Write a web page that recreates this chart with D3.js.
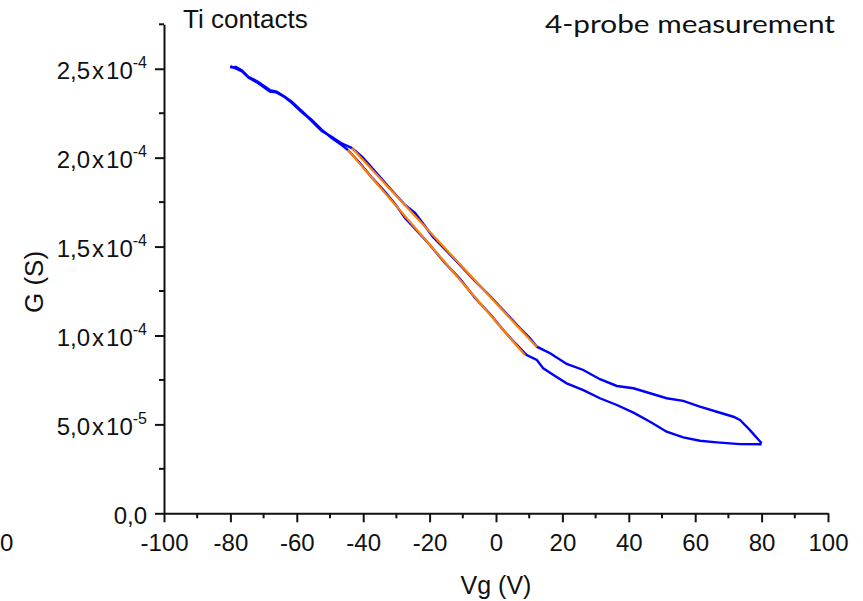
<!DOCTYPE html>
<html lang="en">
<head>
  <meta charset="utf-8">
  <title>G vs Vg, Ti contacts</title>
  <script src="https://d3js.org/d3.v7.min.js"></script>
  <style>
    body { margin: 0; background: #fff; }
    text { font-family: "Liberation Sans", Arial, sans-serif; fill: #111; }
  </style>
</head>
<body>
  <svg width="863" height="601"></svg>
  <script>
    // ---- data ----
    var xTicks = [-100, -80, -60, -40, -20, 0, 20, 40, 60, 80, 100];
    var yTickValues = [0, 5e-5, 1e-4, 1.5e-4, 2e-4, 2.5e-4];
    var yTickMant = ["0,0", "5,0", "1,0", "1,5", "2,0", "2,5"];
    var yTickExp = [null, "-5", "-4", "-4", "-4", "-4"];

    // forward sweep, -80 V -> 80 V  [Vg, G]
    var sweepUp = [
      [-80.1, 2.508e-4], [-78.3, 2.510e-4], [-76.5, 2.490e-4], [-74.6, 2.455e-4],
      [-71.7, 2.427e-4], [-68.1, 2.380e-4], [-66.1, 2.371e-4], [-63.6, 2.343e-4],
      [-61.5, 2.315e-4], [-59.6, 2.282e-4], [-57.5, 2.245e-4], [-55.5, 2.212e-4],
      [-52.5, 2.158e-4], [-49.5, 2.111e-4], [-46.5, 2.071e-4], [-44.6, 2.043e-4],
      [-41.0, 1.970e-4], [-37.3, 1.886e-4], [-33.7, 1.813e-4], [-30.4, 1.740e-4],
      [-27.4, 1.661e-4], [-23.5, 1.582e-4], [-19.9, 1.509e-4], [-15.4, 1.408e-4],
      [-10.8, 1.318e-4], [-6.3, 1.211e-4], [-1.8, 1.121e-4], [2.7, 1.020e-4],
      [5.7, 0.958e-4], [9.25, 0.890e-4], [12.3, 0.862e-4], [14.25, 0.815e-4],
      [17.3, 0.778e-4], [21.3, 0.731e-4], [26.3, 0.693e-4], [31.3, 0.647e-4],
      [36.4, 0.609e-4], [41.4, 0.566e-4], [46.4, 0.515e-4], [51.4, 0.459e-4],
      [56.4, 0.427e-4], [61.4, 0.408e-4], [66.5, 0.399e-4], [73.5, 0.389e-4],
      [80.0, 0.388e-4]
    ];

    // backward sweep, 80 V -> -80 V
    var sweepDown = [
      [80.0, 0.394e-4], [76.5, 0.468e-4], [73.5, 0.525e-4], [71.5, 0.543e-4],
      [66.5, 0.571e-4], [61.4, 0.600e-4], [56.4, 0.632e-4], [51.4, 0.647e-4],
      [46.4, 0.675e-4], [41.4, 0.703e-4], [36.4, 0.716e-4], [31.3, 0.754e-4],
      [26.3, 0.806e-4], [21.3, 0.840e-4], [16.3, 0.900e-4], [12.3, 0.937e-4],
      [10.2, 0.986e-4], [7.2, 1.042e-4], [2.7, 1.132e-4], [-1.8, 1.222e-4],
      [-6.3, 1.306e-4], [-10.8, 1.396e-4], [-15.4, 1.486e-4], [-19.0, 1.554e-4],
      [-21.4, 1.616e-4], [-24.4, 1.689e-4], [-27.4, 1.734e-4], [-30.4, 1.796e-4],
      [-33.4, 1.858e-4], [-37.3, 1.942e-4], [-40.3, 2.004e-4], [-43.4, 2.054e-4],
      [-46.5, 2.080e-4], [-49.5, 2.118e-4], [-52.5, 2.150e-4], [-55.5, 2.205e-4],
      [-57.5, 2.240e-4], [-59.6, 2.274e-4], [-61.5, 2.308e-4], [-63.6, 2.340e-4],
      [-66.1, 2.367e-4], [-68.1, 2.372e-4], [-71.7, 2.420e-4], [-74.6, 2.450e-4],
      [-76.5, 2.485e-4], [-78.3, 2.500e-4], [-80.0, 2.515e-4]
    ];

    // linear fits (orange)
    var fitUp = [[-44.6, 2.043e-4], [8.7, 0.890e-4]];
    var fitDown = [[-43.4, 2.054e-4], [12.3, 0.935e-4]];

    // ---- drawing ----
    var svg = d3.select("svg");
    svg.append("rect").attr("width", 863).attr("height", 601).attr("fill", "#fff");

    var x = d3.scaleLinear().domain([-100, 100]).range([164, 828]);
    var y = d3.scaleLinear().domain([0, 2.75e-4]).range([513.3, 24.3]);

    var line = d3.line().x(d => x(d[0])).y(d => y(d[1]));

    svg.append("path").datum(sweepUp).attr("d", line)
      .attr("fill", "none").attr("stroke", "#0000ff").attr("stroke-width", 2.4);
    svg.append("path").datum(sweepDown).attr("d", line)
      .attr("fill", "none").attr("stroke", "#0000ff").attr("stroke-width", 2.4);

    [fitUp, fitDown].forEach(f => {
      svg.append("path").datum(f).attr("d", line)
        .attr("fill", "none").attr("stroke", "#ff8000").attr("stroke-width", 2.2);
    });

    // x axis
    var xMinor = d3.range(-90, 100, 20);
    var gx = svg.append("g").attr("transform", "translate(0," + y(0) + ")");
    gx.call(d3.axisBottom(x).tickValues(xTicks).tickSize(9).tickFormat(d => d).tickSizeOuter(0));
    gx.selectAll(".domain").attr("stroke", "#111").attr("stroke-width", 2);
    gx.selectAll(".tick line").attr("stroke", "#111").attr("stroke-width", 2);
    gx.selectAll(".tick text").attr("font-size", 24).attr("font-family", null).attr("fill", "#111")
      .attr("y", 0).attr("dy", 37.5);
    gx.selectAll(".minor").data(xMinor).enter().append("line")
      .attr("x1", d => x(d)).attr("x2", d => x(d)).attr("y1", 0).attr("y2", 5)
      .attr("stroke", "#111").attr("stroke-width", 2);

    // y axis
    var yMinor = d3.range(2.5e-5, 2.8e-4, 5e-5);
    var gy = svg.append("g").attr("transform", "translate(" + x(-100) + ",0)");
    gy.call(d3.axisLeft(y).tickValues(yTickValues).tickSize(9).tickFormat("").tickSizeOuter(0));
    gy.selectAll(".domain").attr("stroke", "#111").attr("stroke-width", 2);
    gy.selectAll(".tick line").attr("stroke", "#111").attr("stroke-width", 2);
    gy.selectAll(".minor").data(yMinor).enter().append("line")
      .attr("x1", -5).attr("x2", 0).attr("y1", d => y(d)).attr("y2", d => y(d))
      .attr("stroke", "#111").attr("stroke-width", 2);

    yTickValues.forEach((v, i) => {
      var t = svg.append("text")
        .attr("x", 147).attr("y", y(v) + 10.5)
        .attr("text-anchor", "end").attr("font-size", 24);
      if (yTickExp[i] === null) {
        t.text(yTickMant[i]);
      } else {
        t.append("tspan").text(yTickMant[i]);
        t.append("tspan").attr("dx", 2).text("x");
        t.append("tspan").attr("dx", 2).text("10");
        t.append("tspan").attr("dy", -11).attr("font-size", 16).text(yTickExp[i]);
      }
    });

    // axis titles and notes
    svg.append("text").attr("x", x(0)).attr("y", 594)
      .attr("text-anchor", "middle").attr("font-size", 25).text("Vg (V)");
    svg.append("text").attr("transform", "translate(43,282) rotate(-90)")
      .attr("text-anchor", "middle").attr("font-size", 26).text("G (S)");
    svg.append("text").attr("x", 183).attr("y", 28)
      .attr("font-size", 26).text("Ti contacts");
    svg.append("text").attr("x", 545).attr("y", 33)
      .attr("font-size", 25).style("font-family", "Lato, 'Open Sans', sans-serif")
      .attr("textLength", 290).attr("lengthAdjust", "spacingAndGlyphs")
      .text("4-probe measurement");

    // leftover tick label of the neighbouring panel at the left edge
    svg.append("text").attr("x", 0).attr("y", 551)
      .attr("font-size", 24).text("0");
  </script>
</body>
</html>
